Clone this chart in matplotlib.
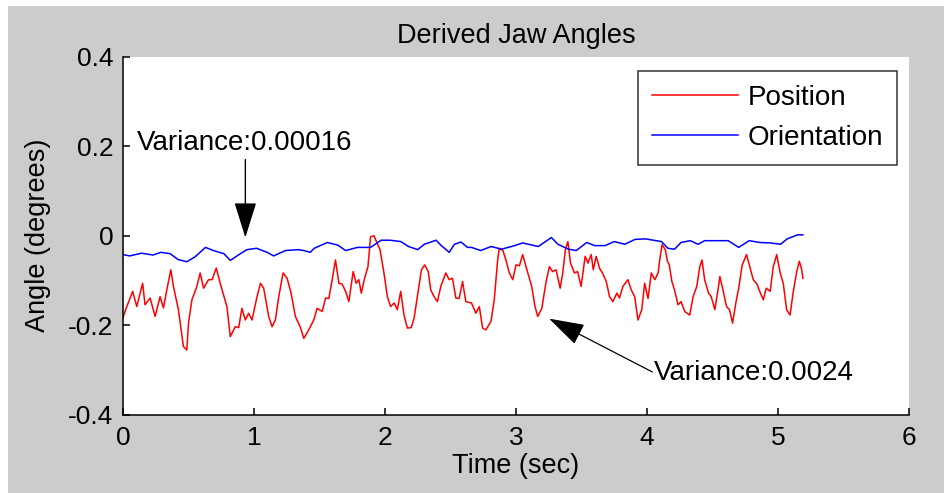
import matplotlib
matplotlib.use("Agg")
import matplotlib.pyplot as plt
from matplotlib.patches import Rectangle

plt.rcParams["font.family"] = ["Liberation Sans", "DejaVu Sans"]

# position angle trace
pos_t = [0.0, 0.02, 0.074, 0.105, 0.15, 0.168, 0.207, 0.245, 0.283, 0.309, 0.334, 0.365,
         0.385, 0.423, 0.461, 0.487, 0.50, 0.526, 0.564, 0.589, 0.615, 0.653, 0.68, 0.712,
         0.742, 0.793, 0.819, 0.857, 0.883, 0.908, 0.934, 0.959, 0.985, 1.023, 1.049, 1.074,
         1.112, 1.138, 1.163, 1.189, 1.222, 1.253, 1.283, 1.316, 1.355, 1.380, 1.418, 1.456,
         1.482, 1.521, 1.546, 1.571, 1.597, 1.622, 1.648, 1.673, 1.699, 1.724, 1.757, 1.78,
         1.80, 1.819, 1.844, 1.87, 1.89, 1.916, 1.93, 1.962, 1.992, 2.018, 2.043, 2.07,
         2.094, 2.12, 2.145, 2.171, 2.20, 2.222, 2.247, 2.278, 2.303, 2.33, 2.349, 2.375,
         2.40, 2.426, 2.464, 2.49, 2.515, 2.541, 2.566, 2.592, 2.617, 2.66, 2.694, 2.72,
         2.745, 2.77, 2.809, 2.834, 2.86, 2.872, 2.90, 2.923, 2.949, 2.975, 3.0, 3.026,
         3.051, 3.09, 3.12, 3.145, 3.166, 3.197, 3.23, 3.255, 3.28, 3.306, 3.337, 3.357,
         3.377, 3.396, 3.416, 3.446, 3.47, 3.497, 3.528, 3.55, 3.574, 3.59, 3.612, 3.64,
         3.66, 3.689, 3.714, 3.74, 3.77, 3.79, 3.816, 3.854, 3.88, 3.906, 3.931, 3.96,
         3.982, 4.008, 4.033, 4.06, 4.085, 4.097, 4.115, 4.14, 4.156, 4.17, 4.19, 4.21,
         4.237, 4.26, 4.288, 4.326, 4.352, 4.38, 4.403, 4.42, 4.44, 4.47, 4.49, 4.518,
         4.544, 4.556, 4.58, 4.607, 4.63, 4.653, 4.68, 4.70, 4.727, 4.76, 4.785, 4.811,
         4.84, 4.86, 4.888, 4.91, 4.94, 4.964, 4.99, 5.017, 5.04, 5.066, 5.092, 5.117,
         5.143, 5.163, 5.18, 5.19]
pos_v = [-0.183, -0.165, -0.124, -0.158, -0.106, -0.154, -0.139, -0.180, -0.136, -0.161, -0.121, -0.076,
         -0.113, -0.165, -0.247, -0.255, -0.195, -0.143, -0.113, -0.083, -0.117, -0.098, -0.098, -0.072,
         -0.106, -0.158, -0.225, -0.203, -0.205, -0.162, -0.188, -0.173, -0.188, -0.136, -0.106, -0.117,
         -0.180, -0.203, -0.188, -0.136, -0.083, -0.095, -0.128, -0.180, -0.205, -0.229, -0.210, -0.188,
         -0.162, -0.169, -0.139, -0.140, -0.098, -0.054, -0.106, -0.108, -0.124, -0.147, -0.080, -0.106,
         -0.098, -0.128, -0.095, -0.069, -0.002, 0.000, -0.010, -0.031, -0.083, -0.136, -0.158, -0.150,
         -0.165, -0.124, -0.177, -0.206, -0.205, -0.184, -0.136, -0.076, -0.065, -0.080, -0.121, -0.136,
         -0.147, -0.113, -0.083, -0.098, -0.095, -0.139, -0.140, -0.102, -0.147, -0.150, -0.173, -0.158,
         -0.206, -0.210, -0.191, -0.143, -0.054, -0.028, -0.033, -0.054, -0.083, -0.098, -0.065, -0.067,
         -0.042, -0.083, -0.113, -0.158, -0.180, -0.162, -0.102, -0.069, -0.080, -0.076, -0.117, -0.083,
         -0.031, -0.013, -0.061, -0.083, -0.080, -0.113, -0.046, -0.061, -0.042, -0.076, -0.046, -0.074,
         -0.083, -0.102, -0.136, -0.147, -0.128, -0.139, -0.113, -0.098, -0.121, -0.136, -0.188, -0.165,
         -0.106, -0.140, -0.083, -0.098, -0.083, -0.054, -0.020, -0.031, -0.057, -0.065, -0.102, -0.121,
         -0.154, -0.147, -0.169, -0.177, -0.136, -0.113, -0.069, -0.054, -0.098, -0.128, -0.136, -0.165,
         -0.117, -0.091, -0.121, -0.158, -0.165, -0.195, -0.147, -0.117, -0.065, -0.042, -0.069, -0.098,
         -0.108, -0.124, -0.143, -0.117, -0.124, -0.069, -0.042, -0.083, -0.106, -0.165, -0.177, -0.124,
         -0.080, -0.057, -0.074, -0.095]

# orientation angle trace
ori_t = [0.0, 0.05, 0.14, 0.23, 0.29, 0.36, 0.42, 0.487, 0.55, 0.63, 0.69, 0.77,
         0.82, 0.88, 0.946, 1.02, 1.10, 1.15, 1.24, 1.34, 1.38, 1.43, 1.46, 1.56,
         1.64, 1.70, 1.79, 1.89, 1.97, 2.04, 2.12, 2.18, 2.25, 2.30, 2.39, 2.43,
         2.49, 2.53, 2.58, 2.63, 2.66, 2.73, 2.81, 2.89, 2.99, 3.05, 3.17, 3.27,
         3.32, 3.40, 3.46, 3.54, 3.60, 3.68, 3.75, 3.83, 3.91, 3.99, 4.03, 4.11,
         4.16, 4.21, 4.26, 4.33, 4.39, 4.44, 4.53, 4.62, 4.70, 4.78, 4.86, 4.94,
         5.02, 5.07, 5.15, 5.19]
ori_v = [-0.042, -0.045, -0.039, -0.043, -0.037, -0.040, -0.053, -0.058, -0.047, -0.026, -0.033, -0.040,
         -0.055, -0.043, -0.031, -0.028, -0.037, -0.045, -0.033, -0.031, -0.033, -0.037, -0.028, -0.015,
         -0.021, -0.033, -0.026, -0.026, -0.010, -0.010, -0.013, -0.024, -0.031, -0.019, -0.010, -0.022,
         -0.037, -0.019, -0.014, -0.026, -0.026, -0.033, -0.024, -0.030, -0.022, -0.016, -0.024, -0.004,
         -0.019, -0.030, -0.033, -0.015, -0.022, -0.022, -0.013, -0.019, -0.008, -0.007, -0.009, -0.013,
         -0.028, -0.030, -0.015, -0.011, -0.019, -0.011, -0.011, -0.011, -0.026, -0.011, -0.015, -0.016,
         -0.019, -0.007, 0.002, 0.002]

x_ticks = [0, 1, 2, 3, 4, 5, 6]
y_ticks = [-0.4, -0.2, 0, 0.2, 0.4]
y_tick_labels = ["-0.4", "-0.2", "0", "0.2", "0.4"]

W, H = 944, 493
fig = plt.figure(figsize=(W / 100, H / 100), dpi=100, facecolor="white")
fig.add_artist(Rectangle((8 / W, 0), 1 - 8 / W, 1 - 6 / H, transform=fig.transFigure,
                         facecolor="#cccccc", edgecolor="none", zorder=-10))

ax = fig.add_axes([123 / W, 1 - 415 / H, (909 - 123) / W, (415 - 56.5) / H])
ax.set_facecolor("white")

fs = 19
ax.plot(pos_t, pos_v, color="#ff0000", lw=1.1, label="Position")
ax.plot(ori_t, ori_v, color="#0000ff", lw=1.1, label="Orientation")

ax.set_xlim(0, 6)
ax.set_ylim(-0.4, 0.4)
ax.set_xticks(x_ticks)
ax.set_yticks(y_ticks)
ax.set_yticklabels(y_tick_labels)
ax.tick_params(direction="in", length=5, width=1.1, labelsize=fs, pad=7)
ax.tick_params(axis="x", pad=8)
for side in ("top", "right"):
    ax.spines[side].set_visible(False)
for side in ("left", "bottom"):
    ax.spines[side].set_linewidth(1.1)

ax.set_title("Derived Jaw Angles", fontsize=19.5, pad=10)
ax.set_xlabel("Time (sec)", fontsize=19.5, labelpad=2)
ax.set_ylabel("Angle (degrees)", fontsize=19.5, labelpad=12)

leg = ax.legend(loc="upper right", bbox_to_anchor=(897 / W, 1 - 71 / H), bbox_transform=fig.transFigure,
                fontsize=20, frameon=True, fancybox=False, handlelength=3.1, handletextpad=0.35,
                borderpad=0.5, labelspacing=0.5, borderaxespad=0)
leg.get_frame().set_edgecolor("black")
leg.get_frame().set_linewidth(1.1)

arrow = dict(arrowstyle="-|>,head_length=1.6,head_width=0.5", color="black", lw=1.0,
             mutation_scale=14, shrinkA=0, shrinkB=0)
ax.annotate("", xy=(0.934, -0.004), xytext=(0.934, 0.170), arrowprops=arrow)
ax.text(0.107, 0.206, "Variance:0.00016", fontsize=20, va="center", ha="left")

arrow2 = dict(arrow, lw=0.9)
ax.annotate("", xy=(3.253, -0.185), xytext=(4.041, -0.304), arrowprops=arrow2)
ax.text(4.056, -0.306, "Variance:0.0024", fontsize=20, va="center", ha="left")

fig.savefig("out.png", dpi=100, facecolor=fig.get_facecolor())
